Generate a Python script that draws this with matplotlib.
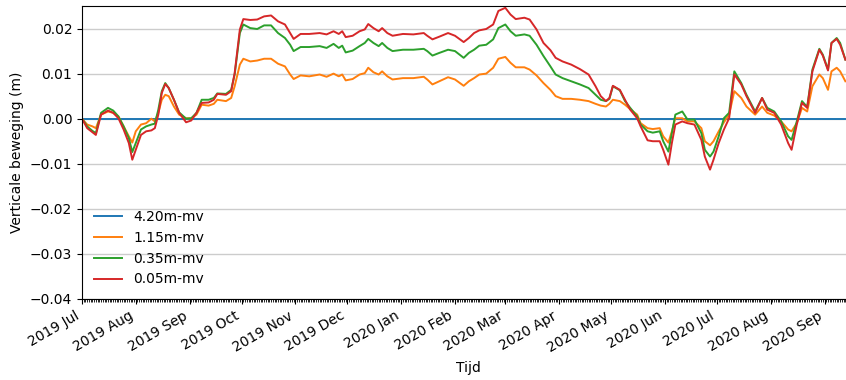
import pandas as pd
import matplotlib
matplotlib.use('Agg')
import matplotlib.pyplot as plt
import matplotlib.dates as mdates

# Days since 2019-07-01 and vertical movement in mm
days = [0, 3, 6, 8, 11, 15, 18, 21, 24, 27, 29, 31, 34, 37, 40, 42, 44, 46, 48, 50,
        53, 56, 60, 63, 66, 69, 73, 76, 78, 83, 86, 88, 91, 93, 97, 101, 105, 109, 113, 117,
        120, 122, 126, 131, 137, 141, 145, 148, 150, 152, 156, 160, 163, 165, 168, 171, 173, 176, 179, 185,
        191, 197, 199, 202, 206, 211, 215, 220, 223, 226, 229, 233, 237, 240, 244, 247, 250, 255, 258, 262,
        266, 270, 273, 277, 282, 287, 292, 296, 299, 302, 304, 306, 310, 313, 316, 320, 322, 326, 329, 333,
        335, 338, 340, 342, 346, 349, 353, 357, 359, 362, 364, 367, 370, 373, 376, 380, 383, 388, 392, 395,
        399, 403, 407, 409, 412, 415, 418, 421, 425, 427, 430, 432, 435, 437, 440]

orange = [0, -1.3, -1.7, -2.1, 0.9, 1.6, 1.3, 0.5, -1.7, -3.9, -5.3, -2.8, -1.3, -1.0, 0.0, -0.6, 1.3, 4.2, 5.3, 5.0,
          2.7, 0.9, 0.1, 0.1, 0.9, 3.1, 2.9, 3.3, 4.2, 3.9, 4.6, 7.2, 12.0, 13.3, 12.7, 12.9, 13.3, 13.3, 12.2, 11.6,
          9.8, 8.8, 9.6, 9.4, 9.8, 9.3, 10.0, 9.4, 9.8, 8.5, 8.8, 9.8, 10.1, 11.3, 10.3, 9.8, 10.5, 9.4, 8.7, 9.0,
          9.0, 9.3, 8.7, 7.6, 8.3, 9.2, 8.7, 7.3, 8.3, 9.0, 9.8, 10.0, 11.3, 13.3, 13.7, 12.4, 11.4, 11.4, 10.9, 9.6,
          7.9, 6.4, 5.0, 4.4, 4.4, 4.2, 3.9, 3.3, 2.9, 2.7, 3.3, 4.2, 3.9, 3.1, 2.1, 0.9, -1.0, -2.1, -2.3, -2.1,
          -3.9, -5.3, -2.8, 0.1, 0.1, -0.6, -0.6, -2.1, -5.0, -5.9, -5.0, -2.8, -0.8, 0.9, 6.1, 4.6, 2.7, 0.9, 2.7, 1.3,
          0.7, -0.6, -2.4, -2.8, -1.0, 2.4, 1.6, 7.2, 9.8, 9.0, 6.4, 10.5, 11.3, 10.5, 8.3]

green = [0, -1.7, -2.7, -3.2, 1.3, 2.4, 1.8, 0.5, -1.7, -4.3, -7.4, -5.4, -2.4, -1.7, -1.3, -1.1, 2.0, 6.1, 7.9, 6.8,
         4.2, 1.4, 0.0, 0.1, 1.3, 4.2, 4.2, 4.6, 5.6, 5.5, 6.4, 9.8, 19.0, 20.9, 20.1, 19.9, 20.7, 20.7, 19.0, 17.9,
         16.4, 15.0, 15.9, 15.9, 16.1, 15.7, 16.6, 15.7, 16.2, 14.7, 15.1, 16.1, 16.8, 17.7, 16.8, 16.1, 16.8, 15.7, 15.0, 15.3,
         15.3, 15.5, 15.0, 14.0, 14.6, 15.3, 15.0, 13.5, 14.6, 15.3, 16.2, 16.4, 17.6, 20.1, 20.9, 19.4, 18.4, 18.7, 18.4, 16.4,
         13.9, 11.6, 9.8, 9.0, 8.3, 7.6, 6.8, 5.3, 4.2, 3.9, 4.4, 7.2, 6.3, 3.9, 2.4, 0.5, -1.3, -2.8, -3.1, -2.8,
         -5.0, -7.3, -3.2, 0.9, 1.6, -0.2, -0.2, -3.2, -6.9, -8.4, -7.3, -3.9, 0.1, 1.3, 10.5, 7.9, 5.3, 1.6, 4.6, 2.4,
         1.6, -0.6, -3.9, -4.7, -0.6, 3.9, 2.6, 10.9, 15.5, 14.2, 10.9, 16.8, 17.9, 16.8, 13.1]

red = [0, -2.1, -3.0, -3.6, 0.9, 1.8, 1.3, 0.1, -2.4, -5.4, -9.1, -6.9, -3.6, -2.8, -2.6, -2.1, 0.9, 5.7, 7.7, 6.8,
       4.2, 1.3, -0.8, -0.4, 1.3, 3.5, 3.6, 4.2, 5.5, 5.3, 6.1, 10.1, 19.8, 22.1, 21.9, 22.0, 22.7, 22.9, 21.6, 20.9,
       19.0, 17.7, 18.8, 18.8, 19.0, 18.7, 19.4, 18.8, 19.4, 18.1, 18.4, 19.4, 19.8, 21.0, 20.1, 19.4, 20.1, 19.0, 18.4, 18.8,
       18.7, 19.0, 18.4, 17.6, 18.2, 19.0, 18.4, 17.0, 17.9, 19.0, 19.6, 19.9, 20.9, 23.9, 24.6, 23.1, 22.1, 22.4, 22.0, 19.8,
       16.8, 15.2, 13.5, 12.7, 12.0, 11.0, 9.8, 7.2, 5.0, 3.9, 4.6, 7.3, 6.4, 4.2, 2.0, 0.1, -1.7, -4.8, -5.0, -5.0,
       -6.9, -10.2, -5.4, -1.3, -0.6, -1.0, -1.3, -4.7, -8.4, -11.3, -9.1, -5.4, -2.4, 0.1, 9.8, 7.6, 5.0, 1.3, 4.6, 2.0,
       1.3, -1.3, -5.4, -6.9, -1.3, 3.5, 2.4, 10.5, 15.3, 14.0, 10.7, 16.8, 17.7, 16.4, 13.1]

labels = ['4.20m-mv', '1.15m-mv', '0.35m-mv', '0.05m-mv']

start = pd.Timestamp('2019-07-01')
dates = start + pd.to_timedelta(days, unit='D')

fig = plt.figure(figsize=(8.46, 3.8), dpi=100)
ax = fig.add_axes([0.0969, 0.2132, 0.9126, 0.771])

ax.plot(dates, [0.0] * len(days), label=labels[0], color='#1f77b4', lw=1.4)
ax.plot(dates, [v / 1000 for v in orange], label=labels[1], color='#ff7f0e', lw=1.4)
ax.plot(dates, [v / 1000 for v in green], label=labels[2], color='#2ca02c', lw=1.4)
ax.plot(dates, [v / 1000 for v in red], label=labels[3], color='#d62728', lw=1.4)

ax.set_xlim(start, pd.Timestamp('2020-09-18'))
ax.set_ylim(-0.04, 0.025)
ax.set_yticks([-0.04, -0.03, -0.02, -0.01, 0.0, 0.01, 0.02])

ax.xaxis.set_major_locator(mdates.MonthLocator())
ax.xaxis.set_major_formatter(mdates.DateFormatter('%Y %b'))
ax.xaxis.set_minor_locator(mdates.DayLocator())
ax.tick_params(axis='x', which='minor', length=2)
for lab in ax.get_xticklabels():
    lab.set_rotation(30)
    lab.set_ha('right')

ax.grid(True, axis='y', color='#cccccc', lw=1)
ax.set_axisbelow(True)
ax.set_xlabel('Tijd')
ax.set_ylabel('Verticale beweging (m)')
ax.legend(loc='lower left', frameon=False)

fig.savefig('out.png', dpi=100)
